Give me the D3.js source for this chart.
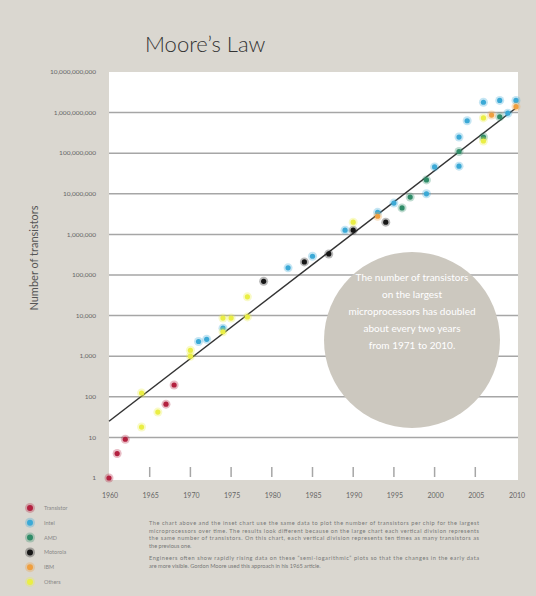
<!DOCTYPE html>
<html>
<head>
<meta charset="utf-8">
<script src="https://cdn.jsdelivr.net/npm/d3@7"></script>
<style>
  html, body { margin: 0; padding: 0; background: #dad7d0; }
  svg { display: block; font-family: Lato, "Open Sans", sans-serif; }
</style>
</head>
<body>
<div id="chart"></div>
<script>
// [year, transistors]
const transistor = [[1960, 1], [1961, 4], [1962, 9], [1967, 66], [1968, 195]]
const intel = [[1971, 2300], [1972, 2600], [1974, 4900], [1982, 150000], [1985, 290000],
    [1989, 1270000], [1993, 3500000], [1995, 5900000], [1999, 10000000], [2000, 46000000],
    [2003, 48000000], [2003, 250000000], [2004, 630000000], [2006, 1800000000],
    [2008, 2000000000], [2009, 970000000], [2010, 2000000000]]
const amd = [[1996, 4500000], [1997, 8300000], [1999, 22000000], [2003, 110000000],
    [2006, 250000000], [2008, 790000000]]
const motorola = [[1979, 70000], [1984, 210000], [1987, 330000], [1990, 1270000], [1994, 2000000]]
const ibm = [[1993, 2800000], [2007, 870000000], [2010, 1400000000]]
const others = [[1964, 18], [1964, 124], [1966, 42], [1970, 1000], [1970, 1400], [1974, 4000],
    [1974, 8700], [1975, 8700], [1977, 9300], [1977, 29000], [1990, 2000000],
    [2006, 740000000], [2006, 200000000]]

const trend = [[1960, 25], [2010, 1300000000]]

const yTicks = [1, 10, 100, 1000, 10000, 100000, 1000000, 10000000, 100000000, 1000000000, 10000000000]
const xTicks = [1960, 1965, 1970, 1975, 1980, 1985, 1990, 1995, 2000, 2005, 2010]

const series = [
    { name: "Transistor", data: transistor, colour: "#b3203f" },
    { name: "Intel", data: intel, colour: "#3ba9d6" },
    { name: "AMD", data: amd, colour: "#2f8c68" },
    { name: "Motorola", data: motorola, colour: "#161616" },
    { name: "IBM", data: ibm, colour: "#ef9f3f" },
    { name: "Others", data: others, colour: "#eaee45" }
]

const calloutLines = ["The number of transistors", "on the largest", "microprocessors has doubled",
    "about every two years", "from 1971 to 2010."]

const noteParas = [
    ["The chart above and the inset chart use the same data to plot the number of transistors per chip for the largest",
     "microprocessors over time. The results look different because on the large chart each vertical division represents",
     "the same number of transistors. On this chart, each vertical division represents ten times as many transistors as",
     "the previous one."],
    ["Engineers often show rapidly rising data on these \u201csemi-logarithmic\u201d plots so that the changes in the early data",
     "are more visible. Gordon Moore used this approach in his 1965 article."]
]

const width = 536, height = 596

const svg = d3.select("#chart")
    .append("svg")
    .attr("width", width)
    .attr("height", height)

svg.append("rect")
    .attr("width", width)
    .attr("height", height)
    .attr("fill", "#dad7d0")

const x = d3.scaleLinear()
    .domain([1960, 2010])
    .range([109, 516])

const y = d3.scaleLog()
    .domain([1, 1e10])
    .range([478, 72])

// white plot panel
svg.append("rect")
    .attr("x", x(1960))
    .attr("y", y(1e10))
    .attr("width", x(2010) - x(1960) + 2)
    .attr("height", y(1) - y(1e10) + 2)
    .attr("fill", "#ffffff")

// title
svg.append("text")
    .attr("x", 145)
    .attr("y", 52)
    .attr("font-size", 22)
    .attr("font-weight", 300)
    .attr("fill", "#333")
    .text("Moore\u2019s Law")

// horizontal gridlines
svg.append("g")
    .selectAll("line")
    .data(yTicks.slice(1, -1))
    .join("line")
    .attr("x1", x(1960))
    .attr("x2", x(2010) + 2)
    .attr("y1", d => y(d))
    .attr("y2", d => y(d))
    .attr("stroke", "#a6a6a6")
    .attr("stroke-width", 1.5)

// y labels
svg.append("g")
    .selectAll("text")
    .data(yTicks)
    .join("text")
    .attr("x", 96)
    .attr("y", d => y(d))
    .attr("dy", "0.35em")
    .attr("text-anchor", "end")
    .attr("font-size", 6.5)
    .attr("fill", "#666")
    .text(d => d3.format(",")(d))

svg.append("text")
    .attr("transform", "translate(38,258) rotate(-90)")
    .attr("text-anchor", "middle")
    .attr("font-size", 11)
    .attr("fill", "#555")
    .text("Number of transistors")

// x ticks inside panel
svg.append("g")
    .selectAll("line")
    .data(xTicks.slice(1, -1))
    .join("line")
    .attr("x1", d => x(d))
    .attr("x2", d => x(d))
    .attr("y1", y(1) - 11)
    .attr("y2", y(1) - 1)
    .attr("stroke", "#a6a6a6")
    .attr("stroke-width", 1.5)

svg.append("g")
    .selectAll("text")
    .data(xTicks)
    .join("text")
    .attr("x", d => x(d) + 1)
    .attr("y", 498)
    .attr("text-anchor", "middle")
    .attr("font-size", 7)
    .attr("fill", "#666")
    .text(d => d)

// callout circle
svg.append("circle")
    .attr("cx", 412)
    .attr("cy", 340)
    .attr("r", 88)
    .attr("fill", "#ccc8bf")

svg.append("g")
    .selectAll("text")
    .data(calloutLines)
    .join("text")
    .attr("x", 412)
    .attr("y", (d, i) => 281 + i * 17)
    .attr("text-anchor", "middle")
    .attr("font-size", 10)
    .attr("fill", "#ffffff")
    .text(d => d)

// trend line
svg.append("path")
    .datum(trend)
    .attr("d", d3.line().x(d => x(d[0])).y(d => y(d[1])))
    .attr("stroke", "#333")
    .attr("stroke-width", 1.5)
    .attr("fill", "none")

// points, with a soft halo like the original
series.forEach(s => {
    const g = svg.append("g")
    g.selectAll(".halo")
        .data(s.data)
        .join("circle")
        .attr("class", "halo")
        .attr("cx", d => x(d[0]))
        .attr("cy", d => y(d[1]))
        .attr("r", 4.5)
        .attr("fill", s.colour)
        .attr("opacity", 0.3)
    g.selectAll(".dot")
        .data(s.data)
        .join("circle")
        .attr("class", "dot")
        .attr("cx", d => x(d[0]))
        .attr("cy", d => y(d[1]))
        .attr("r", 2.6)
        .attr("fill", s.colour)
})

// legend
const legend = svg.append("g")
    .selectAll("g")
    .data(series)
    .join("g")
    .attr("transform", (d, i) => "translate(30," + (508 + i * 14.8) + ")")

legend.append("circle")
    .attr("r", 5)
    .attr("fill", d => d.colour)
    .attr("opacity", 0.3)
legend.append("circle")
    .attr("r", 3)
    .attr("fill", d => d.colour)
legend.append("text")
    .attr("x", 14)
    .attr("dy", "0.35em")
    .attr("font-size", 5.5)
    .attr("fill", "#888")
    .text(d => d.name)

// notes under the chart
const notes = svg.append("g")
    .attr("font-size", 5.6)
    .attr("fill", "#777")
let lineY = 525
noteParas.forEach(p => {
    p.forEach((t, i) => {
        notes.append("text")
            .attr("x", 149)
            .attr("y", lineY)
            .attr("textLength", i < p.length - 1 ? 330 : null)
            .text(t)
        lineY += 7.6
    })
    lineY += 5
})
</script>
</body>
</html>
